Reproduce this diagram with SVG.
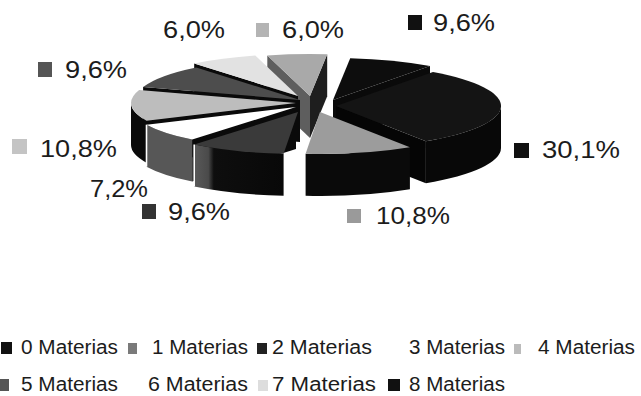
<svg xmlns="http://www.w3.org/2000/svg" width="641" height="396" viewBox="0 0 641 396">
<style>
text{font-family:"Liberation Sans",Arial,sans-serif;fill:#1c1c1c}
.lbl{font-size:24px}
.leg{font-size:20px}
.blk{fill:#0a0a0a}
.gap{stroke:#fff;stroke-width:1.6;fill:none}
</style>
<defs>
<linearGradient id="s2side" gradientUnits="userSpaceOnUse" x1="194" y1="0" x2="284" y2="0">
<stop offset="0" stop-color="#5a5a5a"/>
<stop offset="0.16" stop-color="#4a4a4a"/>
<stop offset="0.22" stop-color="#0e0e0e"/>
<stop offset="1" stop-color="#080808"/>
</linearGradient>
</defs>
<rect width="641" height="396" fill="#fff"/>
<g id="pie">
<g id="slice-8">
<polygon class="blk" points="333,100 430,66 430,108 333,142"/>
<path d="M333,100 L350.2,58.2 A165,42 0 0 1 430,66 Z" fill="#0d0d0d"/>
</g>
<g id="slice-7">
<polygon points="310,96 267.3,55.4 267.3,97.4 310,138" fill="#5e5e5e"/>
<polygon points="310,96 327.2,54.2 327.2,96.2 310,138" fill="#1e1e1e"/>
<path d="M310,96 L267.3,55.4 A165,42 0 0 1 327.2,54.2 Z" fill="#a9a9a9"/>
</g>
<g id="slice-6">
<polygon class="blk" points="298,96 194.2,63.4 194.2,105.4 298,138"/>
<path d="M298,96 L194.2,63.4 A165,42 0 0 1 255.3,55.4 Z" fill="#e2e2e2"/>
</g>
<g id="slice-5">
<polygon class="blk" points="300,100 143.1,87 143.1,129 300,142"/>
<path d="M300,100 L143.1,87 A165,42 0 0 1 196.2,67.4 Z" fill="#4d4d4d"/>
</g>
<g id="slice-4">
<polygon class="blk" points="296,103 146.5,120.7 146.5,162.7 296,145"/>
<path class="blk" d="M146.5,120.7 A165,42 0 0 1 131,103 L131,145 A165,42 0 0 0 146.5,162.7 Z"/>
<path d="M296,103 L146.5,120.7 A165,42 0 0 1 139.1,90 Z" fill="#bdbdbd"/>
</g>
<g id="slice-0">
<polygon points="336,106 425.9,141.2 425.9,183.2 336,148" fill="#050505"/>
<path d="M501,106 A165,42 0 0 1 425.9,141.2 L425.9,183.2 A165,42 0 0 0 501,148 Z" fill="#080808"/>
<path d="M336,106 L433,72 A165,42 0 0 1 425.9,141.2 Z" fill="#141414"/>
</g>
<g id="slice-3">
<polygon class="blk" points="296,107 192.2,139.6 192.2,181.6 296,149"/>
<path d="M192.2,139.6 A165,42 0 0 1 146.5,124.7 L146.5,166.7 A165,42 0 0 0 192.2,181.6 Z" fill="#575757"/>
<path class="gap" d="M146.5,124.7 L146.5,166.7"/>
<path d="M296,107 L192.2,139.6 A165,42 0 0 1 146.5,124.7 Z" fill="#ffffff"/>
</g>
<g id="slice-2">
<path d="M283.6,153.8 A165,42 0 0 1 194.2,144.6 L194.2,186.6 A165,42 0 0 0 283.6,195.8 Z" fill="url(#s2side)"/>
<path class="gap" d="M194.2,144.6 L194.2,186.6"/>
<path d="M298,112 L283.6,153.8 A165,42 0 0 1 194.2,144.6 Z" fill="#3a3a3a"/>
</g>
<g id="slice-1">
<path d="M409.9,147.2 A165,42 0 0 1 305.6,153.8 L305.6,195.8 A165,42 0 0 0 409.9,189.2 Z" fill="#0a0a0a"/>
<path d="M320,112 L409.9,147.2 A165,42 0 0 1 305.6,153.8 Z" fill="#9c9c9c"/>
</g>
</g>
<g id="labels">
<g id="label-6"><text class="lbl" x="163" y="38" textLength="62" lengthAdjust="spacingAndGlyphs">6,0%</text></g>
<g id="label-7"><rect x="256" y="23" width="13" height="14" fill="#b4b4b4"/><text class="lbl" x="282" y="38" textLength="62" lengthAdjust="spacingAndGlyphs">6,0%</text></g>
<g id="label-8"><rect x="408" y="15" width="14" height="15" fill="#111"/><text class="lbl" x="433" y="31" textLength="62" lengthAdjust="spacingAndGlyphs">9,6%</text></g>
<g id="label-5"><rect x="38" y="62" width="14" height="15" fill="#555"/><text class="lbl" x="65" y="78" textLength="62" lengthAdjust="spacingAndGlyphs">9,6%</text></g>
<g id="label-4"><rect x="12" y="139" width="15" height="15" fill="#c4c4c4"/><text class="lbl" x="40" y="157" textLength="77" lengthAdjust="spacingAndGlyphs">10,8%</text></g>
<g id="label-3"><text class="lbl" x="90" y="197" textLength="58" lengthAdjust="spacingAndGlyphs">7,2%</text></g>
<g id="label-2"><rect x="142" y="204" width="14" height="15" fill="#333"/><text class="lbl" x="168" y="220" textLength="62" lengthAdjust="spacingAndGlyphs">9,6%</text></g>
<g id="label-1"><rect x="347" y="209" width="14" height="14" fill="#9a9a9a"/><text class="lbl" x="376" y="224" textLength="74" lengthAdjust="spacingAndGlyphs">10,8%</text></g>
<g id="label-0"><rect x="514" y="143" width="15" height="15" fill="#111"/><text class="lbl" x="542" y="158" textLength="78" lengthAdjust="spacingAndGlyphs">30,1%</text></g>
</g>
<g id="legend">
<g id="leg-0"><rect x="1" y="342" width="11" height="12" fill="#111"/><text class="leg" x="21" y="354" textLength="97" lengthAdjust="spacingAndGlyphs">0 Materias</text></g>
<g id="leg-1"><rect x="128" y="343" width="9" height="11" fill="#7a7a7a"/><text class="leg" x="152" y="354" textLength="96" lengthAdjust="spacingAndGlyphs">1 Materias</text></g>
<g id="leg-2"><rect x="257" y="343" width="10" height="11" fill="#222"/><text class="leg" x="272" y="354" textLength="100" lengthAdjust="spacingAndGlyphs">2 Materias</text></g>
<g id="leg-3"><text class="leg" x="409" y="354" textLength="96" lengthAdjust="spacingAndGlyphs">3 Materias</text></g>
<g id="leg-4"><rect x="514" y="344" width="7" height="10" fill="#bbb"/><text class="leg" x="538" y="354" textLength="97" lengthAdjust="spacingAndGlyphs">4 Materias</text></g>
<g id="leg-5"><rect x="0" y="379" width="9" height="12" fill="#555"/><text class="leg" x="21" y="391" textLength="97" lengthAdjust="spacingAndGlyphs">5 Materias</text></g>
<g id="leg-6"><text class="leg" x="148" y="391" textLength="100" lengthAdjust="spacingAndGlyphs">6 Materias</text></g>
<g id="leg-7"><rect x="258" y="380" width="10" height="11" fill="#ddd"/><text class="leg" x="272" y="391" textLength="104" lengthAdjust="spacingAndGlyphs">7 Materias</text></g>
<g id="leg-8"><rect x="388" y="379" width="12" height="12" fill="#111"/><text class="leg" x="409" y="391" textLength="96" lengthAdjust="spacingAndGlyphs">8 Materias</text></g>
</g>
</svg>
